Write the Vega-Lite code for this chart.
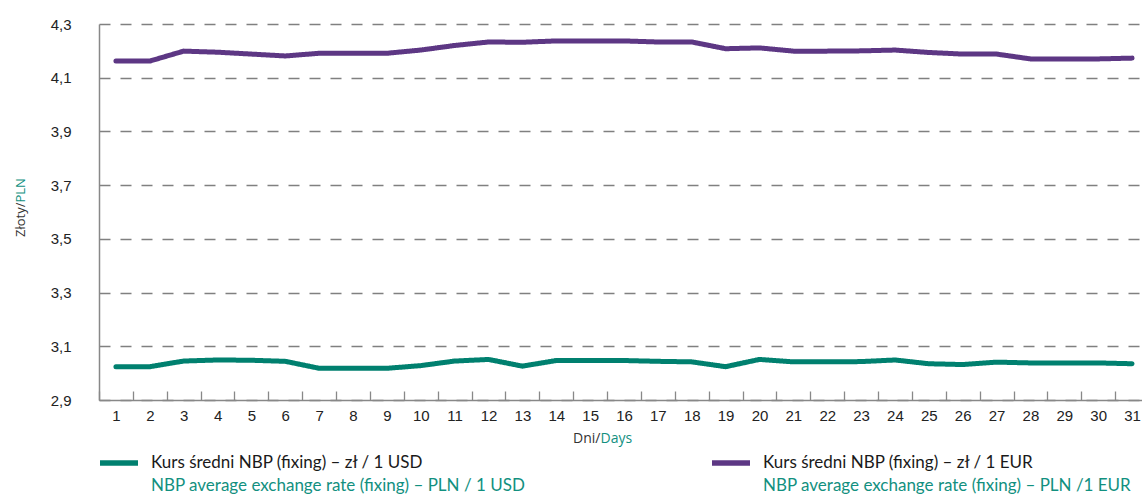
{
  "$schema": "https://vega.github.io/schema/vega-lite/v6.json",
  "autosize": "none",
  "width": 1050,
  "height": 376,
  "padding": {"left": 99, "top": 24, "right": -7, "bottom": 94},
  "background": "white",
  "config": {"view": {"stroke": null}, "legend": {"padding": 0, "titlePadding": 0}},
  "datasets": {
    "rates": [
      {"day": 1, "cur": "USD", "unit": "PLN/1 USD", "rate": 3.024},
      {"day": 2, "cur": "USD", "unit": "PLN/1 USD", "rate": 3.024},
      {"day": 3, "cur": "USD", "unit": "PLN/1 USD", "rate": 3.045},
      {"day": 4, "cur": "USD", "unit": "PLN/1 USD", "rate": 3.049},
      {"day": 5, "cur": "USD", "unit": "PLN/1 USD", "rate": 3.048},
      {"day": 6, "cur": "USD", "unit": "PLN/1 USD", "rate": 3.044},
      {"day": 7, "cur": "USD", "unit": "PLN/1 USD", "rate": 3.018},
      {"day": 8, "cur": "USD", "unit": "PLN/1 USD", "rate": 3.018},
      {"day": 9, "cur": "USD", "unit": "PLN/1 USD", "rate": 3.018},
      {"day": 10, "cur": "USD", "unit": "PLN/1 USD", "rate": 3.028},
      {"day": 11, "cur": "USD", "unit": "PLN/1 USD", "rate": 3.045},
      {"day": 12, "cur": "USD", "unit": "PLN/1 USD", "rate": 3.051},
      {"day": 13, "cur": "USD", "unit": "PLN/1 USD", "rate": 3.026},
      {"day": 14, "cur": "USD", "unit": "PLN/1 USD", "rate": 3.047},
      {"day": 15, "cur": "USD", "unit": "PLN/1 USD", "rate": 3.047},
      {"day": 16, "cur": "USD", "unit": "PLN/1 USD", "rate": 3.047},
      {"day": 17, "cur": "USD", "unit": "PLN/1 USD", "rate": 3.044},
      {"day": 18, "cur": "USD", "unit": "PLN/1 USD", "rate": 3.042},
      {"day": 19, "cur": "USD", "unit": "PLN/1 USD", "rate": 3.024},
      {"day": 20, "cur": "USD", "unit": "PLN/1 USD", "rate": 3.051},
      {"day": 21, "cur": "USD", "unit": "PLN/1 USD", "rate": 3.042},
      {"day": 22, "cur": "USD", "unit": "PLN/1 USD", "rate": 3.042},
      {"day": 23, "cur": "USD", "unit": "PLN/1 USD", "rate": 3.043},
      {"day": 24, "cur": "USD", "unit": "PLN/1 USD", "rate": 3.049},
      {"day": 25, "cur": "USD", "unit": "PLN/1 USD", "rate": 3.035},
      {"day": 26, "cur": "USD", "unit": "PLN/1 USD", "rate": 3.032},
      {"day": 27, "cur": "USD", "unit": "PLN/1 USD", "rate": 3.041},
      {"day": 28, "cur": "USD", "unit": "PLN/1 USD", "rate": 3.038},
      {"day": 29, "cur": "USD", "unit": "PLN/1 USD", "rate": 3.038},
      {"day": 30, "cur": "USD", "unit": "PLN/1 USD", "rate": 3.038},
      {"day": 31, "cur": "USD", "unit": "PLN/1 USD", "rate": 3.035},
      {"day": 1, "cur": "EUR", "unit": "PLN/1 EUR", "rate": 4.162},
      {"day": 2, "cur": "EUR", "unit": "PLN/1 EUR", "rate": 4.162},
      {"day": 3, "cur": "EUR", "unit": "PLN/1 EUR", "rate": 4.199},
      {"day": 4, "cur": "EUR", "unit": "PLN/1 EUR", "rate": 4.195},
      {"day": 5, "cur": "EUR", "unit": "PLN/1 EUR", "rate": 4.188},
      {"day": 6, "cur": "EUR", "unit": "PLN/1 EUR", "rate": 4.181},
      {"day": 7, "cur": "EUR", "unit": "PLN/1 EUR", "rate": 4.191},
      {"day": 8, "cur": "EUR", "unit": "PLN/1 EUR", "rate": 4.191},
      {"day": 9, "cur": "EUR", "unit": "PLN/1 EUR", "rate": 4.191},
      {"day": 10, "cur": "EUR", "unit": "PLN/1 EUR", "rate": 4.203},
      {"day": 11, "cur": "EUR", "unit": "PLN/1 EUR", "rate": 4.22},
      {"day": 12, "cur": "EUR", "unit": "PLN/1 EUR", "rate": 4.233},
      {"day": 13, "cur": "EUR", "unit": "PLN/1 EUR", "rate": 4.232},
      {"day": 14, "cur": "EUR", "unit": "PLN/1 EUR", "rate": 4.237},
      {"day": 15, "cur": "EUR", "unit": "PLN/1 EUR", "rate": 4.237},
      {"day": 16, "cur": "EUR", "unit": "PLN/1 EUR", "rate": 4.237},
      {"day": 17, "cur": "EUR", "unit": "PLN/1 EUR", "rate": 4.233},
      {"day": 18, "cur": "EUR", "unit": "PLN/1 EUR", "rate": 4.233},
      {"day": 19, "cur": "EUR", "unit": "PLN/1 EUR", "rate": 4.208},
      {"day": 20, "cur": "EUR", "unit": "PLN/1 EUR", "rate": 4.211},
      {"day": 21, "cur": "EUR", "unit": "PLN/1 EUR", "rate": 4.199},
      {"day": 22, "cur": "EUR", "unit": "PLN/1 EUR", "rate": 4.199},
      {"day": 23, "cur": "EUR", "unit": "PLN/1 EUR", "rate": 4.2},
      {"day": 24, "cur": "EUR", "unit": "PLN/1 EUR", "rate": 4.203},
      {"day": 25, "cur": "EUR", "unit": "PLN/1 EUR", "rate": 4.194},
      {"day": 26, "cur": "EUR", "unit": "PLN/1 EUR", "rate": 4.188},
      {"day": 27, "cur": "EUR", "unit": "PLN/1 EUR", "rate": 4.188},
      {"day": 28, "cur": "EUR", "unit": "PLN/1 EUR", "rate": 4.17},
      {"day": 29, "cur": "EUR", "unit": "PLN/1 EUR", "rate": 4.17},
      {"day": 30, "cur": "EUR", "unit": "PLN/1 EUR", "rate": 4.17},
      {"day": 31, "cur": "EUR", "unit": "PLN/1 EUR", "rate": 4.173}
    ]
  },
  "data": {"name": "rates"},
  "layer": [
    {
      "transform": [{"filter": "datum.cur === 'USD'"}],
      "mark": {"type": "line", "strokeWidth": 5, "strokeCap": "round", "strokeJoin": "round"},
      "encoding": {
        "x": {
          "field": "day", "type": "ordinal", "bandPosition": 0.5,
          "scale": {"type": "band", "paddingInner": 0, "paddingOuter": 0},
          "axis": {
            "orient": "bottom", "title": "Dni/", "titleX": 501, "titleY": 42, "titleAlign": "right",
            "titleBaseline": "alphabetic", "titleFont": "Open Sans", "titleFontSize": 14, "titleFontWeight": "normal", "titleColor": "#333333",
            "labelAngle": 0, "labelFont": "Liberation Sans, Arial, sans-serif", "labelFontSize": 15, "labelColor": "#222222", "labelPadding": 17,
            "tickBand": "extent", "tickSize": -9, "tickColor": "#888888", "tickWidth": 1.3,
            "domainColor": "#888888", "domainWidth": 1.5, "grid": false
          }
        },
        "y": {
          "field": "rate", "type": "quantitative",
          "scale": {"domain": [2.9, 4.3], "nice": false, "zero": false},
          "axis": {
            "orient": "left", "values": [2.9, 3.1, 3.3, 3.5, 3.7, 3.9, 4.1, 4.3],
            "labelExpr": "replace(format(datum.value, '.1f'), '.', ',')",
            "labelFont": "Liberation Sans, Arial, sans-serif", "labelFontSize": 15, "labelColor": "#222222", "labelPadding": 28,
            "ticks": false, "domainColor": "#888888", "domainWidth": 1.5,
            "grid": true, "gridColor": "#808080", "gridDash": [11, 10], "gridWidth": 1.3,
            "title": "Złoty/", "titleX": -75, "titleY": 178, "titleAlign": "right", "titleBaseline": "alphabetic",
            "titleFont": "Open Sans", "titleFontSize": 13, "titleFontWeight": "normal", "titleColor": "#333333"
          }
        },
        "color": {
          "field": "cur", "type": "nominal",
          "scale": {"range": ["#00806f"]},
          "legend": {
            "orient": "none", "legendX": -2, "legendY": 417, "title": null,
            "symbolType": "stroke", "symbolSize": 1444, "symbolStrokeWidth": 5.5,
            "labelFont": "Lato, sans-serif", "labelFontSize": 17, "labelColor": "#1a1a1a", "labelOffset": 10, "labelLimit": 0,
            "labelExpr": "'Kurs średni NBP (fixing) – zł / 1 USD'"
          }
        },
        "strokeDash": {
          "field": "unit", "type": "nominal",
          "scale": {"range": [[1, 0]]},
          "legend": {
            "orient": "none", "legendX": -2, "legendY": 440, "title": null,
            "symbolType": "stroke", "symbolSize": 1444, "symbolStrokeWidth": 5.5, "symbolOpacity": 0,
            "labelFont": "Lato, sans-serif", "labelFontSize": 17, "labelColor": "#12907f", "labelOffset": 10, "labelLimit": 0,
            "labelExpr": "'NBP average exchange rate (fixing) – PLN / 1 USD'"
          }
        }
      }
    },
    {
      "transform": [{"filter": "datum.cur === 'EUR'"}],
      "mark": {"type": "line", "strokeWidth": 5, "strokeCap": "round", "strokeJoin": "round"},
      "encoding": {
        "x": {
          "field": "day", "type": "ordinal", "bandPosition": 0.5,
          "axis": {
            "orient": "bottom", "title": "Days", "titleX": 501, "titleY": 42, "titleAlign": "left",
            "titleBaseline": "alphabetic", "titleFont": "Open Sans", "titleFontSize": 14, "titleFontWeight": "normal", "titleColor": "#12907f",
            "labels": false, "ticks": false, "domain": false, "grid": false
          }
        },
        "y": {
          "field": "rate", "type": "quantitative",
          "axis": {
            "orient": "left", "labels": false, "ticks": false, "domain": false, "grid": false,
            "title": "PLN", "titleX": -75, "titleY": 178, "titleAlign": "left", "titleBaseline": "alphabetic",
            "titleFont": "Open Sans", "titleFontSize": 13, "titleFontWeight": "normal", "titleColor": "#12907f"
          }
        },
        "color": {
          "field": "cur", "type": "nominal",
          "scale": {"range": ["#5d3784"]},
          "legend": {
            "orient": "none", "legendX": 610, "legendY": 417, "title": null,
            "symbolType": "stroke", "symbolSize": 1444, "symbolStrokeWidth": 5.5,
            "labelFont": "Lato, sans-serif", "labelFontSize": 17, "labelColor": "#1a1a1a", "labelOffset": 10, "labelLimit": 0,
            "labelExpr": "'Kurs średni NBP (fixing) – zł / 1 EUR'"
          }
        },
        "strokeDash": {
          "field": "unit", "type": "nominal",
          "scale": {"range": [[1, 0]]},
          "legend": {
            "orient": "none", "legendX": 610, "legendY": 440, "title": null,
            "symbolType": "stroke", "symbolSize": 1444, "symbolStrokeWidth": 5.5, "symbolOpacity": 0,
            "labelFont": "Lato, sans-serif", "labelFontSize": 17, "labelColor": "#12907f", "labelOffset": 10, "labelLimit": 0,
            "labelExpr": "'NBP average exchange rate (fixing) – PLN /1 EUR'"
          }
        }
      }
    }
  ],
  "resolve": {
    "scale": {"color": "independent", "strokeDash": "independent"},
    "axis": {"x": "independent", "y": "independent"}
  }
}
